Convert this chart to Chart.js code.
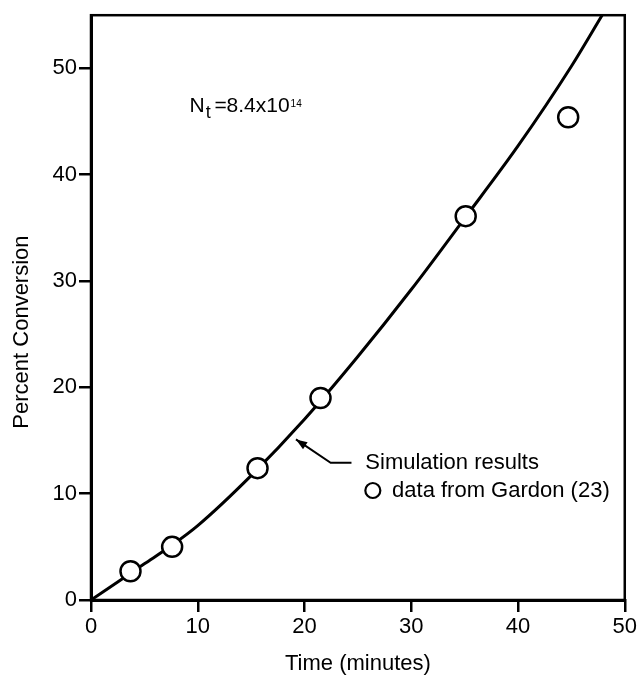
<!DOCTYPE html>
<html>
<head>
<meta charset="utf-8">
<script src="https://cdn.jsdelivr.net/npm/chart.js@4.4.1/dist/chart.umd.min.js"></script>
<style>
  html, body { margin: 0; padding: 0; background: #fff; }
  canvas { display: block; }
</style>
</head>
<body>
<canvas id="chart" width="639" height="677"></canvas>
<script>
// simulation curve
var simTime = [0, 2.5, 5, 7.5, 10, 15, 20, 25, 30, 35, 40, 45, 48];
var simConversion = [0, 1.7, 3.4, 5.1, 7.0, 11.7, 17.0, 22.9, 29.2, 35.9, 42.7, 50.2, 55.2];

// Gardon data points
var gardonTime = [3.7, 7.6, 15.6, 21.5, 35.1, 44.7];
var gardonConversion = [2.7, 5.0, 12.4, 19.0, 36.1, 45.4];

var xTicks = [0, 10, 20, 30, 40, 50];
var yTicks = [0, 10, 20, 30, 40, 50];

var FONT = '"Liberation Sans", Arial, Helvetica, sans-serif';

function toPoints(xs, ys) {
    return xs.map(function(x, i) { return { x: x, y: ys[i] }; });
}

// frame, y title and text annotations
var annotations = {
    id: 'annotations',
    afterDraw: function(chart) {
        var ctx = chart.ctx;
        var a = chart.chartArea;
        var sx = chart.scales.x, sy = chart.scales.y;
        var px = function(v) { return sx.getPixelForValue(v); };
        var py = function(v) { return sy.getPixelForValue(v); };

        ctx.save();
        ctx.strokeStyle = '#000';
        ctx.lineWidth = 2.5;
        ctx.strokeRect(a.left, a.top, a.right - a.left, a.bottom - a.top);

        ctx.fillStyle = '#000';

        // y axis title
        ctx.save();
        ctx.translate(22, py(25.2));
        ctx.rotate(-Math.PI / 2);
        ctx.font = '22px ' + FONT;
        ctx.textAlign = 'center';
        ctx.textBaseline = 'middle';
        ctx.fillText('Percent Conversion', 0, 0);
        ctx.restore();

        ctx.textBaseline = 'alphabetic';
        ctx.textAlign = 'left';

        // N_t = 8.4x10^14
        var x0 = px(9.23), y0 = py(45.9);
        ctx.font = '21px ' + FONT;
        ctx.fillText('N', x0, y0);
        var w = ctx.measureText('N').width + 1;
        ctx.font = '18px ' + FONT;
        ctx.fillText('t', x0 + w, y0 + 6);
        ctx.font = '21px ' + FONT;
        ctx.fillText('=', x0 + 25, y0);
        ctx.fillText('8.4x10', x0 + 37, y0);
        w = 37 + ctx.measureText('8.4x10').width + 1;
        ctx.font = '10px ' + FONT;
        ctx.fillText('14', x0 + w, y0 - 5);

        // arrow to the curve
        var tipX = px(19.2), tipY = py(15.1);
        var elX = px(22.45), elY = py(12.9);
        var endX = px(24.4);
        ctx.lineWidth = 2;
        ctx.beginPath();
        ctx.moveTo(endX, elY);
        ctx.lineTo(elX, elY);
        ctx.lineTo(tipX, tipY);
        ctx.stroke();
        var ang = Math.atan2(tipY - elY, tipX - elX);
        ctx.beginPath();
        ctx.moveTo(tipX, tipY);
        ctx.lineTo(tipX - 12 * Math.cos(ang - 0.35), tipY - 12 * Math.sin(ang - 0.35));
        ctx.lineTo(tipX - 12 * Math.cos(ang + 0.35), tipY - 12 * Math.sin(ang + 0.35));
        ctx.closePath();
        ctx.fill();

        ctx.font = '22px ' + FONT;
        ctx.textBaseline = 'middle';
        ctx.fillText('Simulation results', px(25.7), elY);

        // legend marker
        var lx = px(26.4), ly = py(10.3);
        ctx.beginPath();
        ctx.arc(lx, ly, 7.5, 0, Math.PI * 2);
        ctx.fillStyle = '#fff';
        ctx.fill();
        ctx.lineWidth = 2.2;
        ctx.stroke();
        ctx.fillStyle = '#000';
        ctx.fillText('data from Gardon (23)', px(28.2), ly);
        ctx.restore();
    }
};

new Chart(document.getElementById('chart'), {
    type: 'scatter',
    data: {
        datasets: [
            {
                label: 'Simulation results',
                data: toPoints(simTime, simConversion),
                showLine: true,
                borderColor: '#000',
                borderWidth: 3,
                pointRadius: 0,
                cubicInterpolationMode: 'monotone',
                order: 2
            },
            {
                label: 'data from Gardon (23)',
                data: toPoints(gardonTime, gardonConversion),
                showLine: false,
                pointRadius: 10,
                pointBorderWidth: 2.5,
                pointBorderColor: '#000',
                pointBackgroundColor: '#fff',
                order: 1
            }
        ]
    },
    options: {
        responsive: false,
        animation: false,
        layout: { padding: { left: 0, top: 11, right: 12, bottom: 0 } },
        plugins: {
            legend: { display: false },
            tooltip: { enabled: false }
        },
        scales: {
            x: {
                type: 'linear',
                min: 0,
                max: 50,
                afterBuildTicks: function(scale) {
                    scale.ticks = xTicks.map(function(v) { return { value: v }; });
                },
                afterFit: function(scale) { scale.height = 77; },
                grid: {
                    drawOnChartArea: false,
                    color: '#000',
                    lineWidth: 2.5,
                    tickLength: 12
                },
                border: { color: '#000', width: 3 },
                ticks: {
                    color: '#000',
                    padding: 2,
                    maxRotation: 0,
                    font: { family: FONT, size: 22 }
                },
                title: {
                    display: true,
                    text: 'Time (minutes)',
                    color: '#000',
                    font: { family: FONT, size: 22 },
                    padding: { top: 0, bottom: 0 }
                }
            },
            y: {
                type: 'linear',
                min: 0,
                max: 55,
                afterBuildTicks: function(scale) {
                    scale.ticks = yTicks.map(function(v) { return { value: v }; });
                },
                afterFit: function(scale) { scale.width = 91; },
                grid: {
                    drawOnChartArea: false,
                    color: '#000',
                    lineWidth: 2.5,
                    tickLength: 12
                },
                border: { color: '#000', width: 3 },
                ticks: {
                    color: '#000',
                    padding: 2,
                    font: { family: FONT, size: 22 }
                },
                title: { display: false }
            }
        }
    },
    plugins: [annotations]
});
</script>
</body>
</html>
